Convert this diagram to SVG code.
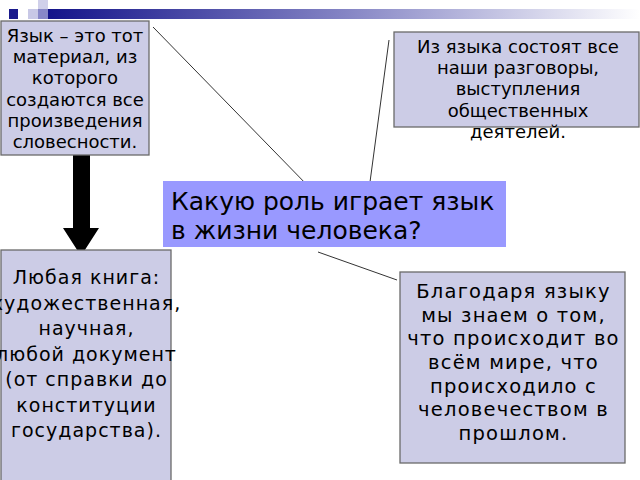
<svg xmlns="http://www.w3.org/2000/svg" width="640" height="480" viewBox="0 0 640 480">
<defs>
<linearGradient id="bar" x1="0" y1="0" x2="1" y2="0">
<stop offset="0" stop-color="#14148a"/>
<stop offset="0.5" stop-color="#8484c4"/>
<stop offset="1" stop-color="#ffffff"/>
</linearGradient>
</defs>
<style>
.box{fill:#ccccE6;stroke:#6a6a6a;stroke-width:1.3}
.t{font-family:"DejaVu Sans",sans-serif;fill:#000;text-anchor:middle}
.s{font-size:18px}
.m{font-size:19px;letter-spacing:1px}
.r{font-size:19.5px;letter-spacing:1.2px}
.big{font-family:"DejaVu Sans",sans-serif;font-size:25px;fill:#000}
.ln{stroke:#333;stroke-width:1;fill:none}
</style>
<rect width="640" height="480" fill="#fff"/>
<g id="decor">
<rect x="9" y="9" width="9" height="10" fill="#1a1a8c"/>
<rect x="28" y="9" width="10" height="10" fill="#c8c8e6"/>
<rect x="38" y="0" width="10" height="9" fill="#d0d0ea"/>
<rect x="38" y="9" width="10" height="10" fill="#8888c8"/>
<rect x="48" y="9" width="592" height="10" fill="url(#bar)"/>
</g>
<g id="connectors">
<line class="ln" x1="153" y1="27" x2="310" y2="188"/>
<line class="ln" x1="389" y1="40" x2="370" y2="182"/>
<line class="ln" x1="318" y1="252" x2="397" y2="280"/>
<polygon points="73,155 90,155 90,228 99,228 81,256 63,228 73,228" fill="#000"/>
</g>
<g id="n1">
<rect class="box" x="1" y="21" width="148" height="134"/>
<text class="t s"><tspan x="75" y="42">Язык – это тот</tspan><tspan x="75" y="63">материал, из</tspan><tspan x="75" y="84">которого</tspan><tspan x="75" y="106">создаются все</tspan><tspan x="75" y="127">произведения</tspan><tspan x="75" y="148">словесности.</tspan></text>
</g>
<g id="n2">
<rect class="box" x="394" y="32" width="245" height="95"/>
<text class="t s"><tspan x="518" y="53">Из языка состоят все</tspan><tspan x="518" y="74">наши разговоры,</tspan><tspan x="518" y="95">выступления</tspan><tspan x="518" y="116.5">общественных</tspan><tspan x="518" y="138">деятелей.</tspan></text>
</g>
<g id="center">
<rect x="163" y="181" width="343" height="66" fill="#9999ff"/>
<text class="big"><tspan x="171" y="210">Какую роль играет язык</tspan><tspan x="171" y="239">в жизни человека?</tspan></text>
</g>
<g id="n3">
<rect class="box" x="1" y="250" width="170" height="235"/>
<text class="t m"><tspan x="86.5" y="284">Любая книга:</tspan><tspan x="86.5" y="309.5">художественная,</tspan><tspan x="86.5" y="335">научная,</tspan><tspan x="86.5" y="360.5">любой документ</tspan><tspan x="86.5" y="386">(от справки до</tspan><tspan x="86.5" y="411.5">конституции</tspan><tspan x="86.5" y="437">государства).</tspan></text>
</g>
<g id="n4">
<rect class="box" x="400" y="272" width="225" height="191"/>
<text class="t r"><tspan x="513.5" y="298">Благодаря языку</tspan><tspan x="513.5" y="321.7">мы знаем о том,</tspan><tspan x="513.5" y="345.3">что происходит во</tspan><tspan x="513.5" y="369">всём мире, что</tspan><tspan x="513.5" y="392.7">происходило с</tspan><tspan x="513.5" y="416.3">человечеством в</tspan><tspan x="513.5" y="440">прошлом.</tspan></text>
</g>
</svg>
